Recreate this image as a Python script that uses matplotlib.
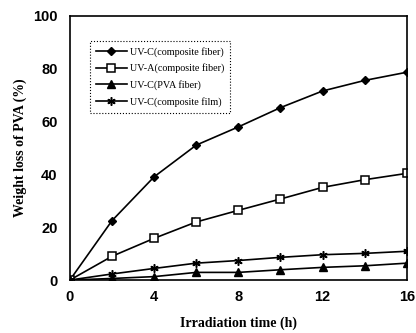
import matplotlib
matplotlib.use("Agg")
import matplotlib.pyplot as plt

hours = [0, 2, 4, 6, 8, 10, 12, 14, 16]
uvc_fiber = [0, 22.5, 39.1, 51.1, 58.0, 65.3, 71.6, 75.6, 78.7]
uva_fiber = [0, 9.0, 15.8, 22.0, 26.4, 30.7, 35.1, 38.0, 40.4]
uvc_pva = [0, 0.6, 1.3, 2.9, 2.9, 3.9, 4.8, 5.4, 6.4]
uvc_film = [0, 2.3, 4.4, 6.4, 7.4, 8.6, 9.6, 10.1, 10.9]

labels = ["UV-C(composite fiber)", "UV-A(composite fiber)",
          "UV-C(PVA fiber)", "UV-C(composite film)"]
x_ticks = [0, 4, 8, 12, 16]
y_ticks = [0, 20, 40, 60, 80, 100]

fig = plt.figure(figsize=(4.16, 3.33), dpi=100)
ax = fig.add_axes([0.168, 0.159, 0.810, 0.793])

ax.plot(hours, uvc_fiber, color="black", lw=1.2, marker="D", ms=4.5,
        mfc="black", label=labels[0])
ax.plot(hours, uva_fiber, color="black", lw=1.2, marker="s", ms=6,
        mfc="white", mew=1.1, label=labels[1])
ax.plot(hours, uvc_pva, color="black", lw=1.2, marker="^", ms=5.5,
        mfc="black", label=labels[2])
ax.plot(hours, uvc_film, color="black", lw=1.2, marker=(6, 2, 0), ms=6,
        mew=1.1, label=labels[3])

ax.set_xlim(0, 16)
ax.set_ylim(0, 100)
ax.set_xticks(x_ticks)
ax.set_yticks(y_ticks)
ax.tick_params(axis="x", length=0, pad=7, labelsize=10.5)
ax.tick_params(axis="y", length=0, pad=9, labelsize=10.5)
for t in ax.get_xticklabels() + ax.get_yticklabels():
    t.set_family("Liberation Sans")
    t.set_fontweight("semibold")
for s in ax.spines.values():
    s.set_linewidth(1.2)

ax.set_xlabel("Irradiation time (h)", family="Liberation Serif",
              fontweight="bold", fontsize=10, labelpad=9)
ax.set_ylabel("Weight loss of PVA (%)", family="Liberation Serif",
              fontweight="bold", fontsize=10, labelpad=4)

leg = ax.legend(loc="upper left", bbox_to_anchor=(0.045, 0.925),
                prop={"family": "Liberation Serif", "size": 7.3},
                fancybox=False, framealpha=1, edgecolor="black",
                handlelength=3.0, labelspacing=0.65, borderpad=0.6,
                handletextpad=0.3)
leg.get_frame().set_linestyle(":")
leg.get_frame().set_linewidth(0.8)

fig.savefig("out.png", dpi=100)
